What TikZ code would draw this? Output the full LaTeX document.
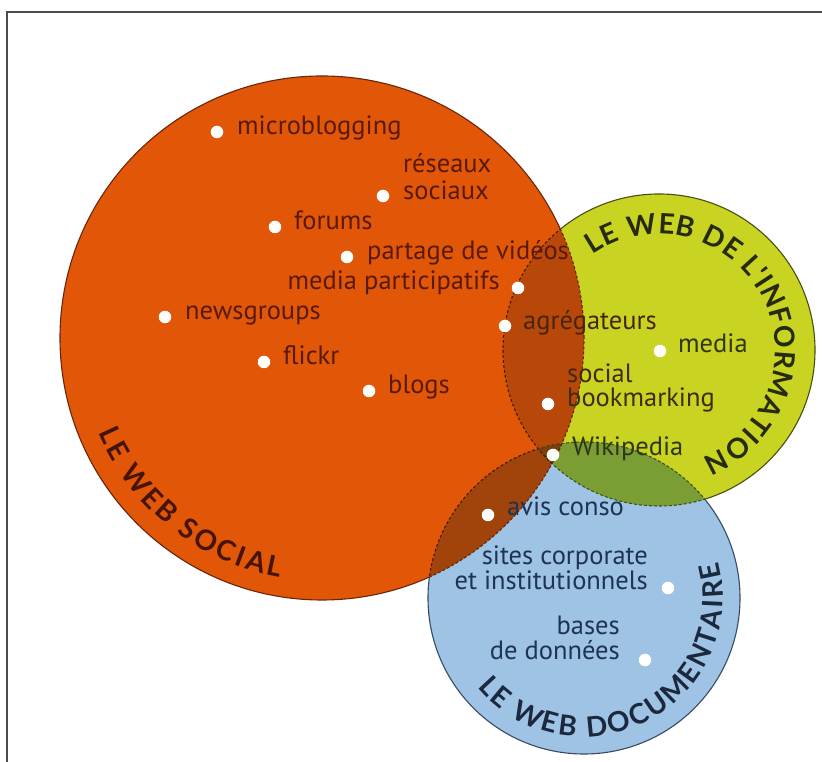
\documentclass[tikz,border=0pt]{standalone}
\usepackage{fontspec}
\setmainfont{PT Sans}
\newfontfamily\capfont{Lato}
\usetikzlibrary{decorations.text}

% circle fills and their overlaps
\definecolor{socialfill}{RGB}{226,86,8}
\definecolor{infofill}{RGB}{201,211,33}
\definecolor{docfill}{RGB}{158,195,228}
\definecolor{socinfo}{RGB}{183,72,10}
\definecolor{socdoc}{RGB}{160,68,12}
\definecolor{infodoc}{RGB}{122,158,52}
\definecolor{allthree}{RGB}{125,62,14}
% outlines
\definecolor{socialline}{RGB}{105,38,10}
\definecolor{infoline}{RGB}{70,80,20}
\definecolor{docline}{RGB}{55,75,100}
% texts
\definecolor{socialtxt}{RGB}{88,26,10}
\definecolor{infotxt}{RGB}{48,54,20}
\definecolor{doctxt}{RGB}{30,52,82}
\definecolor{socialcap}{RGB}{70,20,6}
\definecolor{infocap}{RGB}{38,42,14}
\definecolor{doccap}{RGB}{28,40,62}
\definecolor{framegray}{RGB}{75,75,75}

\newcommand\lblsize{\fontsize{26.5}{27}\selectfont}
\newcommand\capsize{\fontsize{28}{28}\selectfont\bfseries}

\tikzset{
  dot/.style={circle, fill=white, inner sep=0pt, minimum size=12.5},
  lbl/.style={inner sep=0pt, font=\lblsize},
  soc/.style={lbl, text=socialtxt},
  inf/.style={lbl, text=infotxt},
  doc/.style={lbl, text=doctxt},
  outline/.style={line width=1.1},
  inner arc/.style={line width=1.1, dash pattern=on 3 off 2},
}

\begin{document}
\begin{tikzpicture}[x=1pt, y=1pt]
\useasboundingbox (0,0) rectangle (822,762);
\fill[white] (0,0) rectangle (822,762);

\coordinate (O) at (322,424);  % le web social
\coordinate (G) at (659,412);  % le web de l'information
\coordinate (B) at (584,164);  % le web documentaire

% discs
\fill[socialfill] (O) circle[radius=262];
\fill[infofill] (G) circle[radius=156];
\fill[docfill] (B) circle[radius=156];

% overlaps
\begin{scope}
  \clip (O) circle[radius=262];
  \fill[socinfo] (G) circle[radius=156];
  \fill[socdoc] (B) circle[radius=156];
\end{scope}
\begin{scope}
  \clip (G) circle[radius=156];
  \fill[infodoc] (B) circle[radius=156];
\end{scope}
\begin{scope}
  \clip (O) circle[radius=262];
  \clip (G) circle[radius=156];
  \fill[allthree] (B) circle[radius=156];
\end{scope}

% outer outlines: solid outside the other discs
\begin{scope}[even odd rule]
  \clip (-50,-50) rectangle (900,850) (G) circle[radius=156];
  \clip (-50,-50) rectangle (900,850) (B) circle[radius=156];
  \draw[outline, socialline] (O) circle[radius=262];
\end{scope}
\begin{scope}[even odd rule]
  \clip (-50,-50) rectangle (900,850) (O) circle[radius=262];
  \clip (-50,-50) rectangle (900,850) (B) circle[radius=156];
  \draw[outline, infoline] (G) circle[radius=156];
\end{scope}
\begin{scope}[even odd rule]
  \clip (-50,-50) rectangle (900,850) (O) circle[radius=262];
  \clip (-50,-50) rectangle (900,850) (G) circle[radius=156];
  \draw[outline, docline] (B) circle[radius=156];
\end{scope}

% inner outlines: dashed inside the other discs
\begin{scope}
  \clip (G) circle[radius=156];
  \draw[inner arc, socialline] (O) circle[radius=262];
\end{scope}
\begin{scope}
  \clip (B) circle[radius=156];
  \draw[inner arc, socialline] (O) circle[radius=262];
  \draw[inner arc, infoline] (G) circle[radius=156];
\end{scope}
\begin{scope}
  \clip (O) circle[radius=262];
  \draw[inner arc, socialline!70!black] (G) circle[radius=156];
  \draw[inner arc, socialline!70!black] (B) circle[radius=156];
\end{scope}
\begin{scope}
  \clip (G) circle[radius=156];
  \draw[inner arc, infoline] (B) circle[radius=156];
\end{scope}

% curved titles
\path[decorate, decoration={text along path, text align={fit to path},
  text={|\capfont\capsize\color{socialcap}|LE WEB SOCIAL}}]
  ([shift={(322,424)}]203:243) arc[start angle=203, end angle=260, radius=243];
\path[decorate, decoration={text along path, text align={fit to path},
  text={|\capfont\capsize\color{infocap}|LE WEB DE L'INFORMATION}}]
  ([shift={(659,412)}]125:116) arc[start angle=125, end angle=-68, radius=116];
\path[decorate, decoration={text along path, text align={fit to path},
  text={|\capfont\capsize\color{doccap}|LE WEB DOCUMENTAIRE}}]
  ([shift={(584,164)}]220:139) arc[start angle=220, end angle=375, radius=139];

% le web social
\node[dot] (dmicro) at (217,630) {};
\node[soc, anchor=mid west] (tmicro) at (237,630) {microblogging};
\node[dot] (dreseaux) at (383,566) {};
\node[soc, anchor=mid west] (treseauxa) at (403,592) {réseaux};
\node[soc, anchor=mid west] (treseauxb) at (403,565) {sociaux};
\node[dot] (dforums) at (275,535) {};
\node[soc, anchor=mid west] (tforums) at (294,535) {forums};
\node[dot] (dvideos) at (347,505) {};
\node[soc, anchor=mid west] (tvideos) at (367,505) {partage de vidéos};
\node[dot] (dmedpart) at (518,474) {};
\node[soc, anchor=mid east] (tmedpart) at (500,475) {media participatifs};
\node[dot] (dnews) at (165,445) {};
\node[soc, anchor=mid west] (tnews) at (185,445) {newsgroups};
\node[dot] (dflickr) at (264,400) {};
\node[soc, anchor=mid west] (tflickr) at (283,400) {flickr};
\node[dot] (dblogs) at (369,371) {};
\node[soc, anchor=mid west] (tblogs) at (388,371) {blogs};

% overlaps with le web de l'information
\node[dot] (dagreg) at (505,436) {};
\node[lbl, text=socialtxt!60!infotxt, anchor=mid west] (tagreg) at (523,435) {agrégateurs};
\node[dot] (dbookm) at (548,358) {};
\node[lbl, text=socialtxt!50!infotxt, anchor=mid west] (tbookma) at (567,382) {social};
\node[lbl, text=socialtxt!40!infotxt, anchor=mid west] (tbookmb) at (567,358) {bookmarking};
\node[dot] (dwiki) at (553,307) {};
\node[inf, anchor=mid west] (twiki) at (572,309) {Wikipedia};

% le web de l'information
\node[dot] (dmedia) at (660,411) {};
\node[inf, anchor=mid west] (tmedia) at (678,412) {media};

% le web documentaire
\node[dot] (davis) at (488,247) {};
\node[doc, anchor=mid west] (tavis) at (507,249) {avis conso};
\node[dot] (dsites) at (668,174) {};
\node[doc, anchor=mid east] (tsitesa) at (648,200) {sites corporate};
\node[doc, anchor=mid east] (tsitesb) at (648,175) {et institutionnels};
\node[dot] (dbases) at (645,102) {};
\node[doc, anchor=mid east] (tbasesa) at (620,130) {bases};
\node[doc, anchor=mid east] (tbasesb) at (620,105) {de données};

% frame
\draw[framegray, line width=2.5] (7,-5) -- (7,750) -- (830,750);
\end{tikzpicture}
\end{document}
